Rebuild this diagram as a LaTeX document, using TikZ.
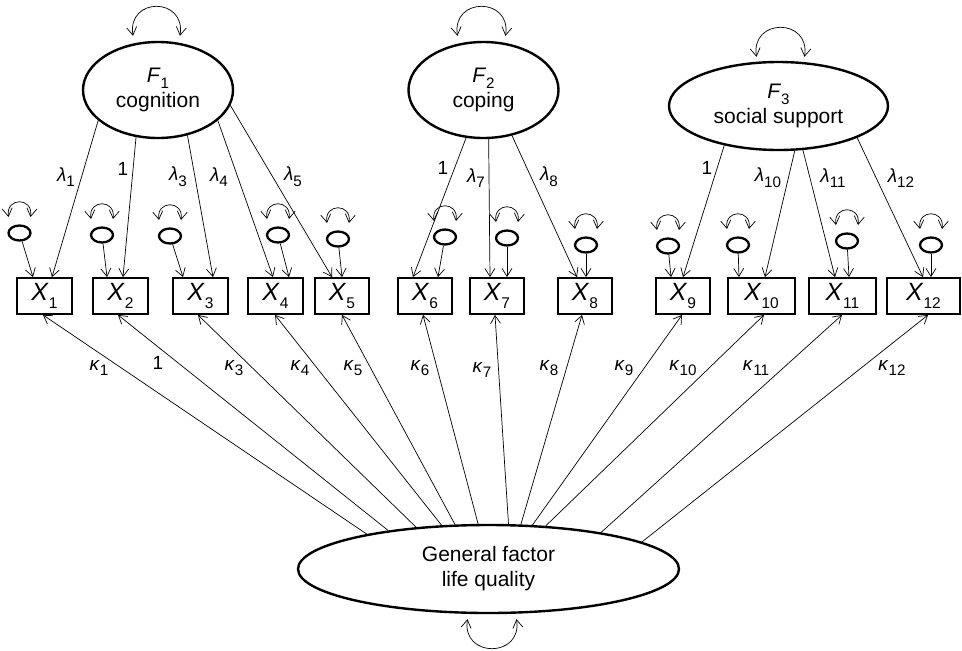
\documentclass[tikz,border=0pt]{standalone}
\usepackage{fontspec}
\setmainfont{Liberation Sans}
\usetikzlibrary{arrows.meta,shapes.geometric}

% lowered, smaller subscript: \lsub[scale]{text}
\newcommand\lsub[2][0.72]{\raisebox{-0.3em}{\scalebox{#1}{#2}}}

\begin{document}
\begin{tikzpicture}[x=1pt,y=-1pt,
  >={Straight Barb[length=8pt,width=10pt]},
  obs/.style={draw,line width=1.9pt,minimum height=36pt,inner sep=0pt,
              font=\fontsize{25}{28}\selectfont},
  lat/.style={draw,ellipse,line width=2.4pt,inner sep=0pt,align=center,
              font=\fontsize{21}{27}\selectfont},
  err/.style={draw,ellipse,line width=2.3pt,minimum width=22pt,
              minimum height=15pt,inner sep=0pt},
  path/.style={->,line width=0.7pt},
  both/.style={<->,line width=0.7pt},
  lab/.style={inner sep=0pt,font=\fontsize{19}{22}\selectfont}]

\fill[white] (0,0) rectangle (962,651);
\useasboundingbox (0,0) rectangle (962,651);

% latent factors
\node[lat,minimum width=150pt,minimum height=96pt] (F1) at (158,90)
  {\textit{F}\lsub{1}\\[-2pt]cognition};
\node[lat,minimum width=150pt,minimum height=96pt] (F2) at (483.5,90)
  {\textit{F}\lsub{2}\\[-2pt]coping};
\node[lat,minimum width=219pt,minimum height=88pt] (F3) at (778.5,106)
  {\textit{F}\lsub{3}\\[-2pt]social support};
\node[lat,minimum width=381pt,minimum height=88pt] (G) at (488.5,569)
  {General factor\\[-2pt]life quality};

% observed indicators
\foreach \i/\x/\w in {1/44.5/55, 2/120.5/55, 3/200.5/55, 4/275.5/55,
                      5/342/54, 6/425/54, 7/497/54, 8/585/54, 9/683/54,
                      10/761.5/67, 11/842.5/67, 12/923.5/73}
  \node[obs,minimum width=\w pt] (X\i) at (\x,296)
    {\textit{X}\lsub[0.62]{\i}};

% residuals
\foreach \i/\x/\y in {1/19.5/233, 2/102/235, 3/170/236, 4/278/235,
                      5/338/239, 6/445/237, 7/507/238, 8/586/245,
                      9/668/246, 10/738/245, 11/847/241, 12/931/245}
  \node[err] (e\i) at (\x,\y) {};

% residual paths and residual variances
\foreach \i/\s in {1/-11.5, 2/-13.5, 3/-17.5, 4/13.5, 5/0, 6/13, 7/10,
                   8/1, 9/-12, 10/-22.5, 11/6.5, 12/7.5}{
  \draw[path] (e\i) -- ([xshift=\s pt]X\i.north);
  \draw[both] ([xshift=-11pt,yshift=16pt]e\i.center)
    .. controls ([xshift=-14pt,yshift=36pt]e\i.center)
           and ([xshift=14pt,yshift=36pt]e\i.center)
    .. ([xshift=11pt,yshift=16pt]e\i.center);
}

% factor variances
\draw[both] ([xshift=-25pt,yshift=5pt]F1.north)
  .. controls ([xshift=-31pt,yshift=44pt]F1.north)
         and ([xshift=28pt,yshift=44pt]F1.north)
  .. ([xshift=22pt,yshift=5pt]F1.north);
\draw[both] ([xshift=-26pt,yshift=5pt]F2.north)
  .. controls ([xshift=-32pt,yshift=44pt]F2.north)
         and ([xshift=28pt,yshift=44pt]F2.north)
  .. ([xshift=22pt,yshift=5pt]F2.north);
\draw[both] ([xshift=-22pt,yshift=4pt]F3.north)
  .. controls ([xshift=-28pt,yshift=43pt]F3.north)
         and ([xshift=32pt,yshift=43pt]F3.north)
  .. ([xshift=26pt,yshift=4pt]F3.north);
\draw[both] ([xshift=-21pt,yshift=-5pt]G.south)
  .. controls ([xshift=-27pt,yshift=-44pt]G.south)
         and ([xshift=34pt,yshift=-44pt]G.south)
  .. ([xshift=28pt,yshift=-5pt]G.south);

% group-factor loadings
\draw[path] (F1.207.7) -- ([xshift=7.5pt]X1.north);
\draw[path] (F1.245.5) -- ([xshift=2.5pt]X2.north);
\draw[path] (F1.303.2) -- ([xshift=12.5pt]X3.north);
\draw[path] (F1.333.4) -- ([xshift=-2.5pt]X4.north);
\draw[path] (F1.348) -- ([xshift=-10pt]X5.north);
\draw[path] (F2.250) -- ([xshift=-12pt]X6.north);
\draw[path] (F2.276) -- ([xshift=-7pt]X7.north);
\draw[path] (F2.302.7) -- ([xshift=-8pt]X8.north);
\draw[path] (F3.216.3) -- ([xshift=0pt]X9.north);
\draw[path] (F3.290.8) -- ([xshift=3.5pt]X10.north);
\draw[path] (F3.299.7) -- ([xshift=-7.5pt]X11.north);
\draw[path] (F3.338.6) -- ([xshift=-0.5pt]X12.north);

% general-factor loadings
\draw[path] (G.164.4) -- ([xshift=-1.5pt]X1.south);
\draw[path] (G.159.6) -- ([xshift=-2.5pt]X2.south);
\draw[path] (G.150.3) -- ([xshift=-2.5pt]X3.south);
\draw[path] (G.137.4) -- ([xshift=-0.5pt]X4.south);
\draw[path] (G.127.7) -- ([xshift=0pt]X5.south);
\draw[path] (G.103.5) -- ([xshift=-2pt]X6.south);
\draw[path] (G.66) -- ([xshift=-2pt]X7.south);
\draw[path] (G.54.9) -- ([xshift=-3pt]X8.south);
\draw[path] (G.45.9) -- ([xshift=-1pt]X9.south);
\draw[path] (G.37.7) -- ([xshift=2.5pt]X10.south);
\draw[path] (G.18.4) -- ([xshift=-0.5pt]X11.south);
\draw[path] (G.10.3) -- ([xshift=4.5pt]X12.south);

% loading labels, group factors
\node[lab] (l1)  at (66,177)  {\textit{λ}\lsub[0.8]{1}};
\node[lab] (l2)  at (123,169) {1};
\node[lab] (l3)  at (178,177) {\textit{λ}\lsub[0.8]{3}};
\node[lab] (l4)  at (219,177) {\textit{λ}\lsub[0.8]{4}};
\node[lab] (l5)  at (293,177) {\textit{λ}\lsub[0.8]{5}};
\node[lab] (l6)  at (443,168) {1};
\node[lab] (l7)  at (476,178) {\textit{λ}\lsub[0.8]{7}};
\node[lab] (l8)  at (549,177) {\textit{λ}\lsub[0.8]{8}};
\node[lab] (l9)  at (707,168) {1};
\node[lab] (l10) at (768,178) {\textit{λ}\lsub[0.8]{10}};
\node[lab] (l11) at (833,178) {\textit{λ}\lsub[0.8]{11}};
\node[lab] (l12) at (901,178) {\textit{λ}\lsub[0.8]{12}};

% loading labels, general factor
\node[lab] (k1)  at (99,368)  {\textit{κ}\lsub[0.8]{1}};
\node[lab] (k2)  at (158,363) {1};
\node[lab] (k3)  at (234,368) {\textit{κ}\lsub[0.8]{3}};
\node[lab] (k4)  at (300,368) {\textit{κ}\lsub[0.8]{4}};
\node[lab] (k5)  at (353,368) {\textit{κ}\lsub[0.8]{5}};
\node[lab] (k6)  at (420,368) {\textit{κ}\lsub[0.8]{6}};
\node[lab] (k7)  at (482,370) {\textit{κ}\lsub[0.8]{7}};
\node[lab] (k8)  at (549,368) {\textit{κ}\lsub[0.8]{8}};
\node[lab] (k9)  at (624,368) {\textit{κ}\lsub[0.8]{9}};
\node[lab] (k10) at (683,368) {\textit{κ}\lsub[0.8]{10}};
\node[lab] (k11) at (756,368) {\textit{κ}\lsub[0.8]{11}};
\node[lab] (k12) at (892,368) {\textit{κ}\lsub[0.8]{12}};
\end{tikzpicture}
\end{document}
